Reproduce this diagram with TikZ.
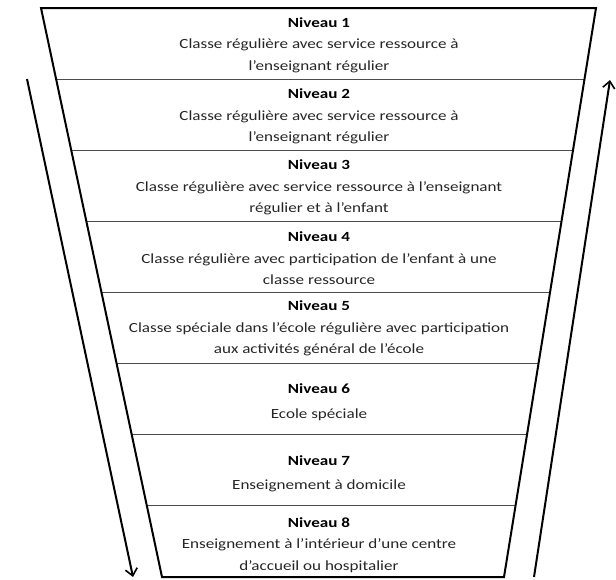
\documentclass[tikz,border=0pt]{standalone}
\usepackage{fontspec}
\setmainfont{Carlito}[FakeStretch=1.22]
\usetikzlibrary{calc,arrows.meta}
\tikzset{
  outline/.style={line width=2pt, line join=miter},
  divider/.style={line width=1.2pt, draw=black!70},
  flow/.style={line width=2pt, -{Straight Barb[length=7pt,width=12pt,line width=1.6pt]}},
  niveautext/.style={align=center, text=black!85, font=\fontsize{14}{21.5}\selectfont, inner sep=0pt}
}
\newcommand\niveau[4][0pt]{%
  \node[niveautext] (niv#2) at (319, #3) {\textbf{\color{black}Niveau #2}\\[#1]#4};
}

\begin{document}
\begin{tikzpicture}[x=1pt,y=-1pt]
  \useasboundingbox (0,0) rectangle (616,579);
  % The funnel
  \coordinate (tl) at (41,8);
  \coordinate (tr) at (596,8);
  \coordinate (br) at (504,577);
  \coordinate (bl) at (162,577);
  \foreach \k in {1,...,7}
    \draw[divider] ($(tl)!\k/8!(bl)$) -- ($(tr)!\k/8!(br)$);
  \draw[outline] (tl) -- (tr) -- (br) -- (bl) -- cycle;

  % The levels
  \niveau{1}{45}{Classe régulière avec service ressource à\\l'enseignant régulier}
  \niveau{2}{116.5}{Classe régulière avec service ressource à\\l'enseignant régulier}
  \niveau{3}{187.5}{Classe régulière avec service ressource à l'enseignant\\régulier et à l'enfant}
  \niveau{4}{258.5}{Classe régulière avec participation de l'enfant à une\\classe ressource}
  \niveau{5}{328.5}{Classe spéciale dans l'école régulière avec participation\\aux activités général de l'école}
  \niveau[3.3pt]{6}{402.3}{Ecole spéciale}
  \niveau[3.3pt]{7}{473.7}{Enseignement à domicile}
  \niveau{8}{545}{Enseignement à l'intérieur d'une centre\\d'accueil ou hospitalier}

  % The arrows
  \coordinate (downstart) at (27,79);
  \coordinate (downend) at (133,577);
  \coordinate (upstart) at (534,577);
  \coordinate (upend) at (610,80);
  \draw[flow] (downstart) -- (downend);
  \draw[flow] (upstart) -- (upend);
\end{tikzpicture}
\end{document}
